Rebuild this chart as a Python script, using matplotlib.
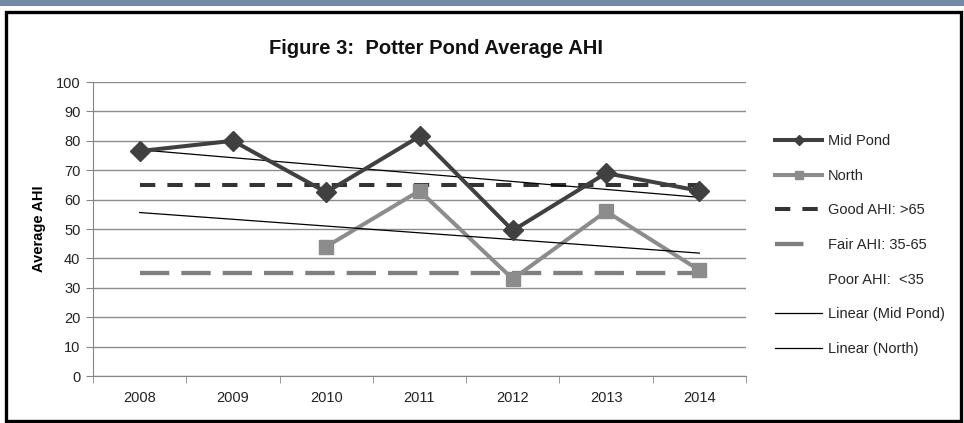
import numpy as np
import matplotlib
matplotlib.use('Agg')
import matplotlib.pyplot as plt
from matplotlib.patches import Rectangle
from matplotlib.lines import Line2D

plt.rcParams['font.family'] = ['Liberation Sans', 'DejaVu Sans']

years = ['2008', '2009', '2010', '2011', '2012', '2013', '2014']
mid_pond = [76.5, 80, 62.5, 81.5, 49.5, 69, 63]
north = [np.nan, np.nan, 44, 63, 33, 56, 36]
good_ahi = [65] * 7
fair_ahi = [35] * 7

W, H = 964, 423
fig = plt.figure(figsize=(W / 100, H / 100), dpi=100)

# page decoration: blue band on top and black frame
fig.patches.append(Rectangle((0, 1 - 6 / H), 1, 6 / H, transform=fig.transFigure,
                             facecolor='#7389a8', edgecolor='none'))
fig.patches.append(Rectangle((5.5 / W, 2 / H), 955 / W, 409 / H, transform=fig.transFigure,
                             facecolor='none', edgecolor='black', linewidth=2.4))

ax = fig.add_axes([93 / W, 1 - 376 / H, 653 / W, 294 / H])
x = np.arange(len(years))

# trend lines (Excel style linear fit)
mv = np.array(mid_pond)
pm = np.polyfit(x[~np.isnan(mv)], mv[~np.isnan(mv)], 1)
nv = np.array(north)
pn = np.polyfit(x[~np.isnan(nv)], nv[~np.isnan(nv)], 1)

ax.plot(x, good_ahi, color='#333333', lw=2.9, dashes=(3.8, 3.0), zorder=2)
ax.plot(x, fair_ahi, color='#7f7f7f', lw=3.1, dashes=(6.8, 2.8), zorder=2)
ax.plot(x, np.polyval(pm, x), color='black', lw=0.9, zorder=4)
ax.plot(x, np.polyval(pn, x), color='black', lw=0.9, zorder=4)
ax.plot(x, north, color='#8c8c8c', lw=2.9, marker='s', ms=10, zorder=3)
ax.plot(x, mid_pond, color='#404040', lw=2.9, marker='D', ms=10.5, zorder=5)

ax.set_xlim(-0.5, len(years) - 0.5)
ax.set_ylim(0, 100)
ax.set_yticks(range(0, 101, 10))
ax.set_xticks(x)
ax.set_xticklabels(years)
ax.set_xticks(np.arange(-0.5, len(years)), minor=True)
ax.tick_params(axis='x', which='major', length=0, pad=11, labelsize=10.5, colors='#222222')
ax.tick_params(axis='x', which='minor', length=5, color='#868686')
ax.tick_params(axis='y', length=5, color='#868686', labelsize=10.5, labelcolor='#222222', pad=4)
ax.grid(axis='y', color='#8c8c8c', lw=1)
ax.set_axisbelow(True)
for s in ['top', 'right']:
    ax.spines[s].set_visible(False)
for s in ['left', 'bottom']:
    ax.spines[s].set_color('#868686')
ax.set_ylabel('Average AHI', fontsize=10.5, fontweight='bold', labelpad=7)

fig.text(436 / W, 1 - 48 / H, 'Figure 3:  Potter Pond Average AHI', ha='center', va='center',
         fontsize=14.5, fontweight='bold', color='#111111')

labels = ['Mid Pond', 'North', 'Good AHI: >65', 'Fair AHI: 35-65', 'Poor AHI:  <35',
          'Linear (Mid Pond)', 'Linear (North)']
handles = [
    Line2D([], [], color='#404040', lw=2.9, marker='D', ms=5.5),
    Line2D([], [], color='#8c8c8c', lw=2.9, marker='s', ms=6),
    Line2D([], [], color='#333333', lw=2.9, dashes=(3.8, 3.0)),
    Line2D([], [], color='#7f7f7f', lw=3.1, dashes=(6.6, 20)),
    Line2D([], [], color='none'),
    Line2D([], [], color='black', lw=0.9),
    Line2D([], [], color='black', lw=0.9),
]
leg = fig.legend(handles, labels, loc='upper left', bbox_to_anchor=(768 / W, 1 - 127 / H),
                 frameon=False, fontsize=10.5, handlelength=3.2, handletextpad=0.4,
                 labelspacing=1.41, borderpad=0)
for t in leg.get_texts():
    t.set_color('#262626')

fig.savefig('out.png', dpi=100)
